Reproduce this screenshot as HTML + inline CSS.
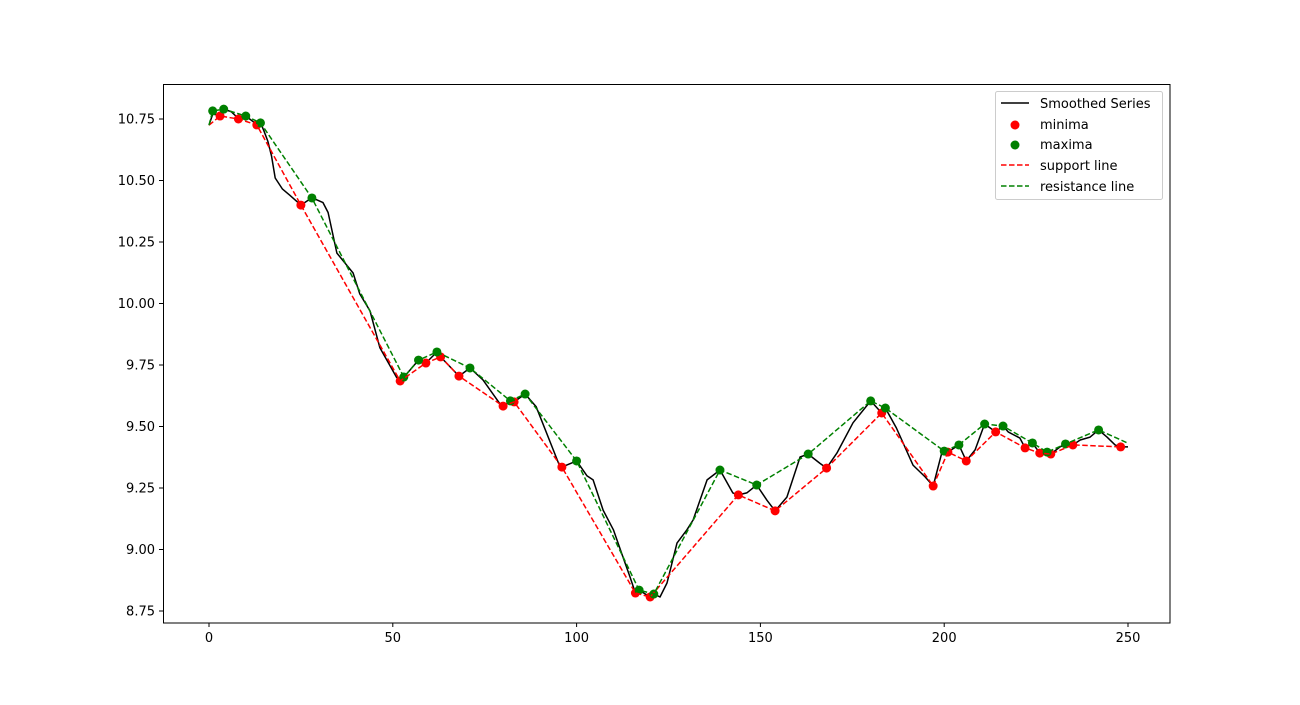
<!DOCTYPE html>
<html><head><meta charset="utf-8"><style>
body{margin:0;background:#fff;font-family:"Liberation Sans","DejaVu Sans",sans-serif;}
</style></head><body>
<svg id="chart" width="1300" height="700" xmlns="http://www.w3.org/2000/svg" font-family="DejaVu Sans, Liberation Sans, sans-serif" font-size="13">
<rect width="1300" height="700" fill="#fff"/>
<g id="plot"></g>
<rect x="163.5" y="84.5" width="1006.5" height="538.5" fill="none" stroke="#000" stroke-width="1"/>
<g id="xt"></g>
<g id="yt"></g>
<g>
<rect x="995.5" y="91.5" width="167" height="108" rx="2" fill="#fff" fill-opacity="0.8" stroke="#ccc"/>
<g><line x1="1001" y1="103" x2="1029" y2="103" stroke="#000" stroke-width="1.5"/><text x="1040" y="108">Smoothed Series</text></g>
<g><circle cx="1015" cy="125" r="4.5" fill="red"/><text x="1040" y="129">minima</text></g>
<g><circle cx="1015" cy="145" r="4.5" fill="green"/><text x="1040" y="149">maxima</text></g>
<g><line x1="1001" y1="165" x2="1029" y2="165" stroke="red" stroke-width="1.5" stroke-dasharray="5.5,2.5"/><text x="1040" y="170">support line</text></g>
<g><line x1="1001" y1="186" x2="1029" y2="186" stroke="green" stroke-width="1.5" stroke-dasharray="5.5,2.5"/><text x="1040" y="191">resistance line</text></g>
</g>
</svg>
<script>
const seriesX=[0,1,3,4,6,8,10,13,14,15,16,17,18,20,22,25,28,31,32.4,34.8,39.2,41,43.8,46.5,51,52,53,57,59,62,63,68,71,74.5,79,80,82,83,86,89,95.5,96,100,102.8,104.5,107.2,110,112.6,114.5,116,117,120,121,122.7,124.6,127.3,130,131.7,135.5,139,142.5,144,146.3,149,151.8,154,157.2,160.8,163,166.2,168,170.8,175.2,180,183,184,187,191.5,194.8,197,199.4,200,201,204,206,208.4,211,214,216,217.4,220.6,222,224,226,228,229,231.5,233,235,237,239.7,242,244.3,246.5,248,250];
const seriesY=[10.725,10.77,10.765,10.79,10.78,10.752,10.762,10.728,10.735,10.70,10.66,10.60,10.51,10.465,10.44,10.40,10.43,10.41,10.37,10.205,10.124,10.04,9.97,9.82,9.70,9.685,9.70,9.77,9.758,9.803,9.783,9.705,9.738,9.69,9.595,9.583,9.604,9.60,9.632,9.58,9.335,9.335,9.36,9.30,9.283,9.16,9.08,8.97,8.89,8.823,8.835,8.807,8.82,8.807,8.864,9.026,9.08,9.12,9.283,9.323,9.23,9.222,9.23,9.262,9.20,9.157,9.213,9.376,9.388,9.35,9.331,9.392,9.515,9.604,9.555,9.575,9.494,9.343,9.295,9.258,9.396,9.40,9.396,9.425,9.36,9.405,9.51,9.478,9.502,9.478,9.453,9.413,9.433,9.392,9.396,9.388,9.417,9.429,9.425,9.445,9.457,9.486,9.457,9.425,9.417,9.417];
const minX=[3,8,13,25,52,59,63,68,80,83,96,116,120,144,154,168,183,197,201,206,214,222,226,229,235,248];
const minY=[10.762,10.75,10.726,10.40,9.685,9.758,9.783,9.705,9.583,9.600,9.335,8.823,8.807,9.222,9.157,9.331,9.555,9.258,9.396,9.360,9.478,9.413,9.392,9.388,9.425,9.417];
const maxX=[1,4,10,14,28,53,57,62,71,82,86,100,117,121,139,149,163,180,184,200,204,211,216,224,228,233,242];
const maxY=[10.783,10.79,10.762,10.734,10.429,9.701,9.770,9.803,9.738,9.604,9.632,9.360,8.835,8.819,9.323,9.262,9.388,9.604,9.575,9.40,9.425,9.51,9.502,9.433,9.396,9.429,9.486];
const supportX=[0].concat(minX);
const supportY=[10.725].concat(minY);
const resistX=[0].concat(maxX,[250]);
const resistY=[10.725].concat(maxY,[9.432]);
const xTicks=[0,50,100,150,200,250];
const yTicks=[8.75,9.00,9.25,9.50,9.75,10.00,10.25,10.50,10.75];
const NS="http://www.w3.org/2000/svg";
const sx=v=>209+v*(1128-209)/250;
const sy=v=>119+(10.75-v)*246;
function mk(tag,attrs,parent){const e=document.createElementNS(NS,tag);for(const k in attrs)e.setAttribute(k,attrs[k]);parent.appendChild(e);return e;}
const plot=document.getElementById('plot');
const pts=(xs,ys)=>xs.map((x,i)=>sx(x).toFixed(1)+','+sy(ys[i]).toFixed(1)).join(' ');
let l=mk('polyline',{points:pts(seriesX,seriesY),fill:'none',stroke:'#000','stroke-width':1.5,'stroke-linejoin':'round'},plot);


minX.forEach((x,i)=>{const c=mk('circle',{cx:sx(x),cy:sy(minY[i]),r:4.5,fill:'red'},plot);

});
maxX.forEach((x,i)=>{const c=mk('circle',{cx:sx(x),cy:sy(maxY[i]),r:4.5,fill:'green'},plot);

});
let s=mk('polyline',{points:pts(supportX,supportY),fill:'none',stroke:'red','stroke-width':1.5,'stroke-dasharray':'5.5,2.5'},plot);


let r=mk('polyline',{points:pts(resistX,resistY),fill:'none',stroke:'green','stroke-width':1.5,'stroke-dasharray':'5.5,2.5'},plot);


const xt=document.getElementById('xt'),yt=document.getElementById('yt');
xTicks.forEach(t=>{const x=sx(t);mk('line',{x1:x,y1:623,x2:x,y2:627,stroke:'#000'},xt);
const tx=mk('text',{x:x,y:642,'text-anchor':'middle'},xt);tx.textContent=t;

});
yTicks.forEach(t=>{const y=sy(t);mk('line',{x1:159,y1:y,x2:163,y2:y,stroke:'#000'},yt);
const tx=mk('text',{x:155,y:y+4.5,'text-anchor':'end'},yt);tx.textContent=t.toFixed(2);

});
</script>
</body></html>
